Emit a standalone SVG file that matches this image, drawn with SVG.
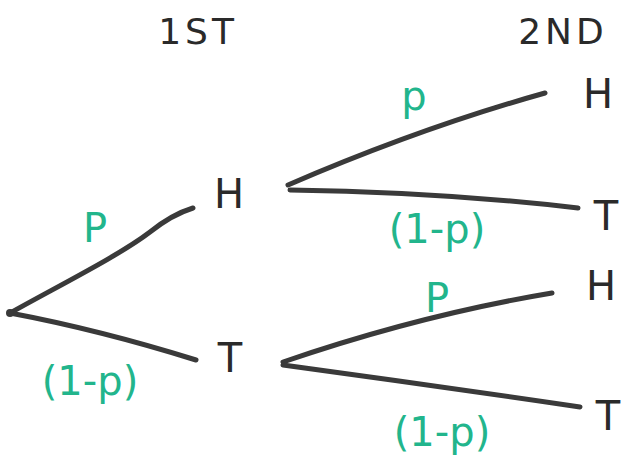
<svg xmlns="http://www.w3.org/2000/svg" width="623" height="468" viewBox="0 0 623 468">
<style>
.e{fill:none;stroke:#3a3a3a;stroke-width:5;stroke-linecap:round;stroke-linejoin:round}
.n{font-family:"DejaVu Sans","Liberation Sans",sans-serif;fill:#2a2a2a;font-size:40px;text-anchor:middle}
.h{font-family:"DejaVu Sans","Liberation Sans",sans-serif;fill:#2a2a2a;font-size:36px;text-anchor:middle;letter-spacing:4px}
.l{font-family:"DejaVu Sans","Liberation Sans",sans-serif;fill:#22b58c;font-size:40px;text-anchor:middle}
</style>
<rect width="623" height="468" fill="#ffffff"/>
<g id="headers">
<text class="h" x="198" y="44">1ST</text>
<text class="h" x="563" y="44">2ND</text>
</g>
<g id="connectors">
<path class="e" d="M10 313 C60 285 120 255 150 232 C165 220 180 212 193 208"/>
<path class="e" d="M10 313 Q100 330 196 360"/>
<path class="e" d="M288 185 Q420 128 545 93"/>
<path class="e" d="M290 190 Q440 192 578 208"/>
<path class="e" d="M283 362 Q420 315 552 293"/>
<path class="e" d="M283 365 Q430 385 580 407"/>
</g>
<g id="root"><circle cx="10" cy="313" r="4" fill="#3a3a3a"/></g>
<g id="n-H1"><text class="n" x="229" y="208">H</text></g>
<g id="n-T1"><text class="n" x="230" y="372">T</text></g>
<g id="n-HH"><text class="n" x="598" y="108">H</text></g>
<g id="n-HT"><text class="n" x="606" y="230">T</text></g>
<g id="n-TH"><text class="n" x="601" y="300">H</text></g>
<g id="n-TT"><text class="n" x="608" y="430">T</text></g>
<g id="labels">
<text class="l" x="95" y="242">P</text>
<text class="l" x="90" y="395">(1-p)</text>
<text class="l" x="414" y="110">p</text>
<text class="l" x="437" y="243">(1-p)</text>
<text class="l" x="437" y="312">P</text>
<text class="l" x="442" y="446">(1-p)</text>
</g>
</svg>
